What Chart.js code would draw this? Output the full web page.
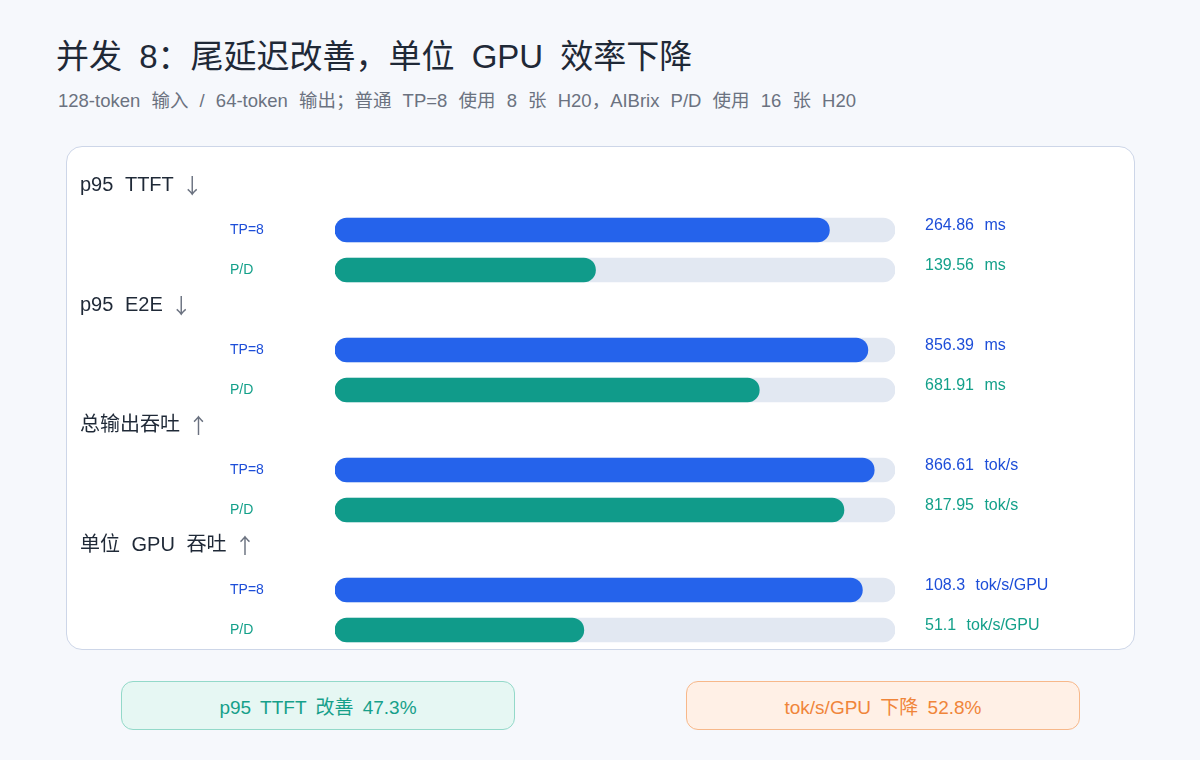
<!DOCTYPE html>
<html>
<head>
<meta charset="utf-8">
<script src="https://cdn.jsdelivr.net/npm/chart.js@4"></script>
<style>
  html, body { margin: 0; padding: 0; }
  body {
    width: 1200px; height: 760px; position: relative; overflow: hidden;
    background: #f6f8fc;
    font-family: "Liberation Sans", "Noto Sans CJK SC", sans-serif;
  }
  .title { position: absolute; left: 56px; top: 30px; font-size: 33px; word-spacing: 8px; color: #1f2937; white-space: nowrap; }
  .sub { position: absolute; left: 58px; top: 86px; font-size: 18.5px; word-spacing: 6px; color: #6b7280; white-space: nowrap; }
  .card {
    position: absolute; left: 66px; top: 146px; width: 1069px; height: 504px;
    box-sizing: border-box; background: #fff; border: 1.5px solid #cdd6e8; border-radius: 16px;
  }
  #wrap { position: absolute; left: 66px; top: 146px; width: 1069px; height: 520px; }
  .pill {
    position: absolute; top: 681px; width: 394px; height: 49px; box-sizing: border-box;
    border-radius: 12px; font-size: 19px; word-spacing: 4px;
    display: flex; align-items: center; justify-content: center;
  }
  .good { left: 121px; background: #e6f7f3; border: 1.5px solid #93d9c9; color: #16a08a; }
  .bad { left: 686px; background: #fff0e6; border: 1.5px solid #f7b88a; color: #f0853a; }
</style>
</head>
<body>
<div class="title">并发 8：尾延迟改善，单位 GPU 效率下降</div>
<div class="sub">128-token 输入 / 64-token 输出；普通 TP=8 使用 8 张 H20，AIBrix P/D 使用 16 张 H20</div>
<div class="card"></div>
<div id="wrap"><canvas id="bars"></canvas></div>
<div class="pill good">p95 TTFT 改善 47.3%</div>
<div class="pill bad">tok/s/GPU 下降 52.8%</div>

<script>
// 指标和数值
var metrics = ["p95 TTFT", "p95 E2E", "总输出吞吐", "单位 GPU 吞吐"];
var arrows = ["↓", "↓", "↑", "↑"];
var units = ["ms", "ms", "tok/s", "tok/s/GPU"];
var seriesNames = ["TP=8", "P/D"];
var tp8 = [264.86, 856.39, 866.61, 108.3];
var pd = [139.56, 681.91, 817.95, 51.1];
var scaleMax = [300, 900, 900, 115]; // full track length per metric

var barColors = ["#2563eb", "#109b8a"];
var labelColors = ["#1d4ed8", "#14a08a"];
var FONT = "'Liberation Sans', 'Noto Sans CJK SC', sans-serif";

// one heading row + two bar rows per metric
var rows = [];
metrics.forEach(function (m, i) {
  rows.push({ kind: "head", m: i });
  rows.push({ kind: "bar", m: i, s: 0, v: tp8[i] });
  rows.push({ kind: "bar", m: i, s: 1, v: pd[i] });
});

var rowLabels = rows.map(function (r, i) { return "r" + i; });
var trackData = rows.map(function (r) { return r.kind == "bar" ? 100 : null; });
var valueData = rows.map(function (r) { return r.kind == "bar" ? r.v / scaleMax[r.m] * 100 : null; });
var valueColors = rows.map(function (r) { return r.kind == "bar" ? barColors[r.s] : "transparent"; });

// headings, row names and value texts, placed on the y scale
var rowText = {
  id: "rowText",
  afterDatasetsDraw: function (chart) {
    var ctx = chart.ctx, y = chart.scales.y;
    ctx.save();
    ctx.textBaseline = "middle";
    ctx.textAlign = "left";
    rows.forEach(function (r, i) {
      var py = y.getPixelForValue(i);
      if (r.kind == "head") {
        ctx.font = "20px " + FONT;
        ctx.wordSpacing = "6px";
        ctx.fillStyle = "#1f2937";
        var t = metrics[r.m];
        ctx.fillText(t, 14, py - 5);
        var w = ctx.measureText(t).width;
        ctx.font = "21px 'Noto Sans CJK SC', sans-serif";
        ctx.fillStyle = "#6b7280";
        ctx.fillText(arrows[r.m], 14 + w + 8, py - 5);
      } else {
        ctx.wordSpacing = "6px";
        ctx.font = "14px " + FONT;
        ctx.fillStyle = labelColors[r.s];
        ctx.fillText(seriesNames[r.s], 164, py);
        ctx.font = "16px " + FONT;
        ctx.fillText(r.v + " " + units[r.m], 859, py - 4);
      }
    });
    ctx.restore();
  }
};

new Chart(document.getElementById("bars").getContext("2d"), {
  type: "bar",
  data: {
    labels: rowLabels,
    datasets: [
      {
        data: valueData,
        backgroundColor: valueColors,
        borderRadius: 12,
        borderSkipped: false,
        barThickness: 24,
        grouped: false,
        order: 1,
      },
      {
        data: trackData,
        backgroundColor: "#e2e8f2",
        borderRadius: 12,
        borderSkipped: false,
        barThickness: 24,
        grouped: false,
        order: 2,
      },
    ],
  },
  options: {
    indexAxis: "y",
    responsive: true,
    maintainAspectRatio: false,
    animation: false,
    layout: {
      padding: { left: 269, right: 240, top: 24, bottom: 16 },
    },
    scales: {
      x: { display: false, min: 0, max: 100 },
      y: { display: false },
    },
    plugins: {
      legend: { display: false },
      tooltip: { enabled: false },
    },
  },
  plugins: [rowText],
});
</script>
</body>
</html>
